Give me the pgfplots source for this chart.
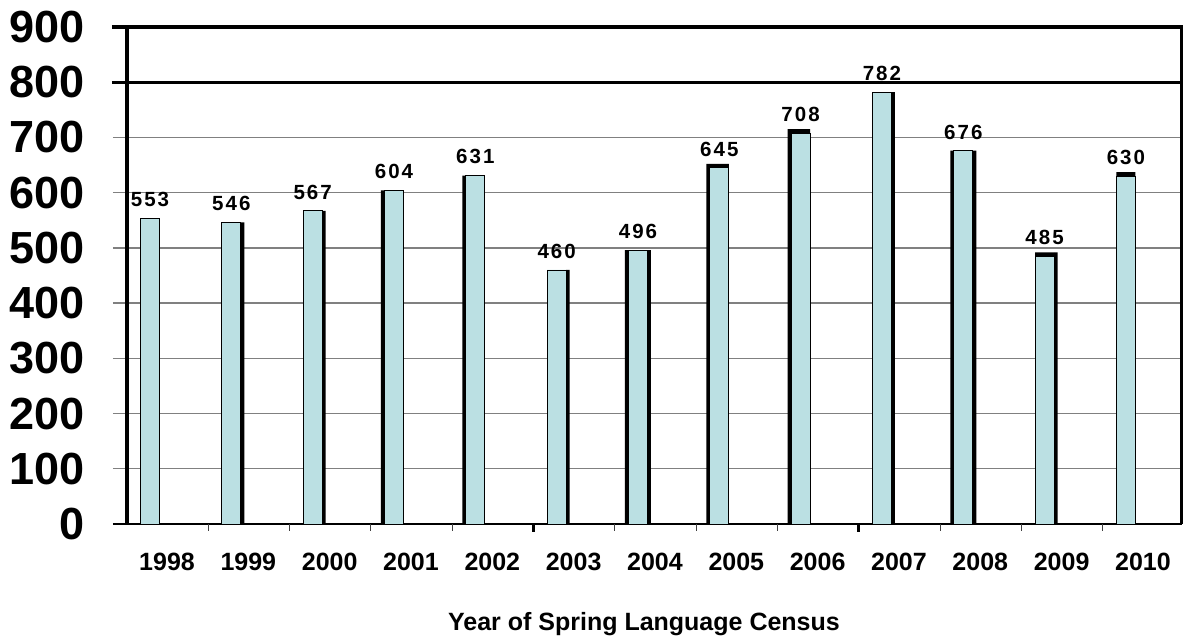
\documentclass[border=0pt]{standalone}
\usepackage{pgfplots}
\usepackage{pgfplotstable}
\pgfplotsset{compat=1.18}
\usepackage{fontspec}
\setmainfont{Liberation Sans}
\newfontfamily\valuefont{Liberation Sans}[LetterSpace=10]
\definecolor{barfill}{RGB}{187,224,227}
\definecolor{gridgray}{RGB}{128,128,128}

% val: census count; left/right/top: heights of the black shadow strips
\pgfplotstableread{
x  val left right top
0  553 0   0   0
1  546 0   546 0
2  567 0   567 0
3  604 604 0   0
4  631 631 0   0
5  460 0   460 0
6  496 496 496 0
7  645 652 0   652
8  708 715 0   715
9  782 0   782 0
10 676 676 676 0
11 485 0   492 492
12 630 0   0   637
}\censusdata

\begin{document}
\begin{tikzpicture}
\path[use as bounding box] (-127pt,-117pt) rectangle (1057pt,524pt);
\begin{axis}[
  at={(0pt,0pt)}, anchor=south west,
  scale only axis, width=1055pt, height=497pt,
  xmin=-0.283, xmax=12.689, ymin=0, ymax=900,
  axis line style={draw=none},
  clip=false,
  xtick={0,...,12},
  xticklabels={1998,1999,2000,2001,2002,2003,2004,2005,2006,2007,2008,2009,2010},
  ytick={0,100,...,900},
  major tick length=0pt,
  /pgf/number format/assume math mode=true,
  xticklabel style={font=\fontsize{25}{25}\selectfont\bfseries, anchor=center,
    inner sep=0pt, xshift=17pt, yshift=-38pt},
  yticklabel style={font=\fontsize{45}{45}\selectfont\bfseries, anchor=east,
    inner sep=0pt, xshift=-42pt},
  xlabel={Year of Spring Language Census},
  xlabel style={at={(axis description cs:0.49,0)}, anchor=base, inner sep=0pt,
    yshift=-106pt, font=\fontsize{25}{25}\selectfont\bfseries},
]
% horizontal grid lines, running past the left axis as ticks
\pgfplotsinvokeforeach{100,200,300,400,500,600,700}{
  \draw[gridgray, line width=1.3pt] ([xshift=-14pt]axis cs:-0.283,#1) -- (axis cs:12.689,#1);
}
\draw[black, line width=1.5pt] ([xshift=-14pt]axis cs:-0.283,0) -- (axis cs:12.689,0);
% category separators below the x axis
\pgfplotsinvokeforeach{0.717,1.717,2.717,3.717,5.717,6.717,7.717,9.717,10.717,11.717}{
  \draw[gridgray!50!black, line width=1pt] (axis cs:#1,0) -- ([yshift=-7pt]axis cs:#1,0);
}
\pgfplotsinvokeforeach{4.717,8.717}{
  \draw[black, line width=3pt] (axis cs:#1,0) -- ([yshift=-8pt]axis cs:#1,0);
}

% shadow strips
\addplot[ybar, bar width=19pt, bar shift=0pt, fill=black, draw=none]
  table[x=x, y=top] {\censusdata};
\addplot[ybar, bar width=3.5pt, bar shift=-11.25pt, fill=black, draw=none]
  table[x=x, y=left] {\censusdata};
\addplot[ybar, bar width=3.5pt, bar shift=11.25pt, fill=black, draw=none]
  table[x=x, y=right] {\censusdata};
% census counts
\addplot[ybar, bar width=19pt, bar shift=0pt, fill=barfill, draw=black, line width=0.8pt,
  nodes near coords,
  every node near coord/.append style={font=\fontsize{20.5}{20.5}\selectfont\valuefont\bfseries,
    anchor=south, inner sep=0pt, yshift=11pt, text=black}]
  table[x=x, y=val] {\censusdata};

% frame: heavy lines at 800 and 900, left axis and right border
\draw[black, line width=3.2pt] ([xshift=-15pt]axis cs:-0.283,800) -- (axis cs:12.689,800);
\draw[black, line width=3.2pt] ([xshift=-15pt]axis cs:-0.283,900) -- (axis cs:12.689,900);
\draw[black, line width=4.2pt] (axis cs:-0.283,0) -- ([yshift=1.6pt]axis cs:-0.283,900);
\draw[black, line width=3pt] (axis cs:12.689,0) -- ([yshift=1.6pt]axis cs:12.689,900);
\end{axis}
\end{tikzpicture}
\end{document}
